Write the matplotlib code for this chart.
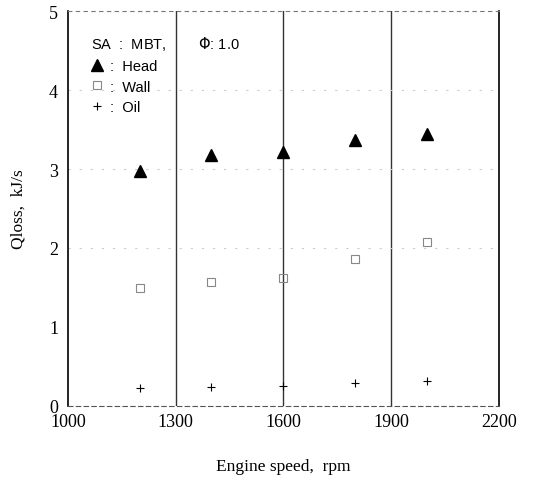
import matplotlib
matplotlib.use("Agg")
import matplotlib.pyplot as plt

speeds = [1200, 1400, 1600, 1800, 2000]
head = [2.97, 3.18, 3.22, 3.37, 3.44]
wall = [1.49, 1.57, 1.62, 1.86, 2.07]
oil = [0.23, 0.24, 0.25, 0.29, 0.32]

xticks = [1000, 1300, 1600, 1900, 2200]
yticks = [0, 1, 2, 3, 4, 5]

fig = plt.figure(figsize=(5.34, 4.85), dpi=100)
ax = fig.add_axes([0.127, 0.161, 0.807, 0.814])
ax.set_xlim(1000, 2200)
ax.set_ylim(0, 5)

# faint scan-like grid
for x in xticks[1:-1]:
    ax.axvline(x, color="#333333", lw=1.0, zorder=1)
for y in [2, 3, 4]:
    ax.axhline(y, color="#cccccc", lw=0.8, ls=(0, (2, 8)), zorder=1)

h1, = ax.plot(speeds, head, ls="none", marker="^", ms=8, color="black", zorder=3)
h2, = ax.plot(speeds, wall, ls="none", marker="s", ms=5.5, mfc="none", mec="#888888", mew=0.8, zorder=3)
h3, = ax.plot(speeds, oil, ls="none", marker="+", ms=6, color="black", mew=0.8, zorder=3)

ax.spines["top"].set_linestyle((0, (3, 4)))
ax.spines["top"].set_color("#777777")
ax.spines["bottom"].set_linestyle((0, (4, 3)))
ax.spines["bottom"].set_color("#555555")
ax.spines["left"].set_linewidth(1.2)
ax.spines["right"].set_linewidth(1.2)

ax.set_xticks(xticks)
ax.set_yticks(yticks)
ax.tick_params(length=0, labelsize=13)
ax.tick_params(axis="x", pad=5)
ax.tick_params(axis="y", pad=7)
for lab in ax.get_xticklabels() + ax.get_yticklabels():
    lab.set_family("Liberation Serif")

ax.set_xlabel("Engine speed,  rpm", family="Liberation Serif", fontsize=12.5, labelpad=20)
ax.set_ylabel("Qloss,  kJ/s", family="Liberation Serif", fontsize=12.5, labelpad=16)

leg = ax.legend([h1, h2, h3], [":  Head", ":  Wall", ":  Oil"],
                title="SA  :  MBT,        $\\mathit{\\Phi}$: 1.0",
                loc="upper left", frameon=False, handlelength=0.8, handletextpad=0.5,
                labelspacing=0.45, borderaxespad=1.2,
                prop={"family": "Liberation Sans", "size": 10.5},
                title_fontproperties={"family": "Liberation Sans", "size": 10.5})
leg._legend_box.align = "left"

fig.savefig("out.png", dpi=100)
